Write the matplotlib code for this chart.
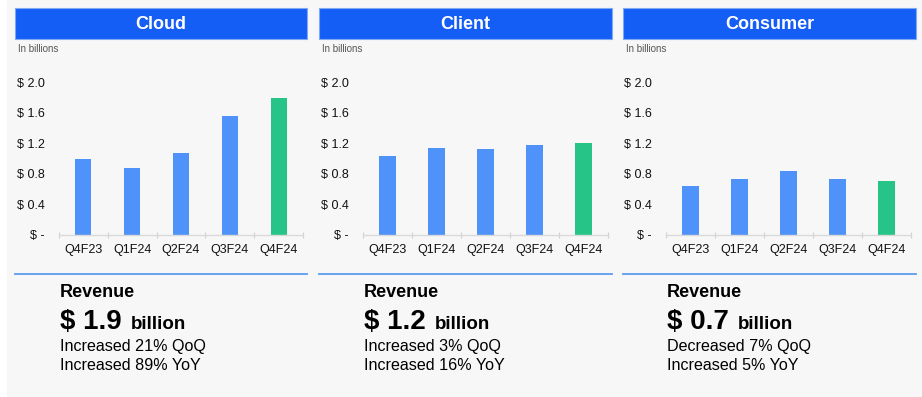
import numpy as np
import matplotlib
matplotlib.use('Agg')
import matplotlib.pyplot as plt
from matplotlib.patches import Rectangle

plt.rcParams['font.family'] = ['Liberation Sans', 'DejaVu Sans']

# data (billions)
quarters = ['Q4F23', 'Q1F24', 'Q2F24', 'Q3F24', 'Q4F24']
cloud = [0.99, 0.87, 1.07, 1.55, 1.79]
client = [1.03, 1.14, 1.12, 1.17, 1.20]
consumer = [0.645, 0.73, 0.84, 0.73, 0.71]

segments = ['Cloud', 'Client', 'Consumer']
revenue = ['$ 1.9', '$ 1.2', '$ 0.7']
qoq = ['Increased 21% QoQ', 'Increased 3% QoQ', 'Decreased 7% QoQ']
yoy = ['Increased 89% YoY', 'Increased 16% YoY', 'Increased 5% YoY']
yticks = [0, 0.4, 0.8, 1.2, 1.6, 2.0]
ytick_labels = ['$ -', '$ 0.4', '$ 0.8', '$ 1.2', '$ 1.6', '$ 2.0']

W, H = 922, 397
BLUE = '#4f93fa'
GREEN = '#26c486'
HEAD = '#155ef5'
BG = '#f7f7f7'

fig = plt.figure(figsize=(W / 100, H / 100), dpi=100)
fig.patch.set_facecolor(BG)


def fx(px):
    return px / W


def fy(py):
    return 1 - py / H


# white strip on the left edge
fig.patches.append(Rectangle((0, 0), fx(7), 1, transform=fig.transFigure,
                             facecolor='white', edgecolor='none'))

# panel geometry in pixels: title box left/right, axes left/right
boxes = [(15, 307), (319, 612), (623, 916)]
axes_x = [(59, 303), (363, 608), (666, 911)]
ax_top, ax_bot = 82, 235

for i, values in enumerate([cloud, client, consumer]):
    bl, br = boxes[i]
    # title header
    fig.patches.append(Rectangle((fx(bl), fy(39)), fx(br - bl), 31 / H,
                                 transform=fig.transFigure, facecolor=HEAD,
                                 edgecolor='#7fa8f7', linewidth=0.8))
    fig.text(fx((bl + br) / 2), fy(24.5), segments[i], color='white',
             fontsize=13, fontweight='bold', ha='center', va='center')
    fig.text(fx(bl + 3), fy(49), 'In billions', color='#555555',
             fontsize=7, ha='left', va='center')

    # bar chart
    al, ar = axes_x[i]
    ax = fig.add_axes([fx(al), fy(ax_bot), fx(ar - al), (ax_bot - ax_top) / H])
    ax.set_facecolor('none')
    colors = [BLUE] * (len(quarters) - 1) + [GREEN]
    x = np.arange(len(quarters))
    ax.bar(x, values, width=0.33, color=colors, edgecolor='none')
    ax.set_xlim(-0.5, len(quarters) - 0.5)
    ax.set_ylim(0, 2.0)
    ax.set_yticks(yticks)
    ax.set_yticklabels(ytick_labels, fontsize=9, color='#111111')
    ax.set_xticks(x)
    ax.set_xticklabels(quarters, fontsize=9, color='#111111')
    ax.set_xticks(np.arange(-0.5, len(quarters)), minor=True)
    ax.tick_params(axis='y', length=0, pad=10.5)
    ax.tick_params(axis='x', which='major', length=0, pad=6.5)
    ax.tick_params(axis='x', which='minor', length=4, direction='inout',
                   color='#d0d0d0', width=0.8)
    for s in ['top', 'right', 'left']:
        ax.spines[s].set_visible(False)
    ax.spines['bottom'].set_color('#d9d9d9')
    ax.spines['bottom'].set_linewidth(1.0)

    # separator line
    fig.add_artist(plt.Line2D([fx(bl), fx(br)], [fy(274), fy(274)],
                              transform=fig.transFigure, color='#5b9bf0',
                              linewidth=1.3))

    # summary text
    tx = al + 1
    fig.text(fx(tx), fy(297), 'Revenue', fontsize=13, fontweight='bold',
             ha='left', va='baseline', color='black')
    fig.text(fx(tx), fy(329), revenue[i], fontsize=20, fontweight='bold',
             ha='left', va='baseline', color='black')
    fig.text(fx(tx + 71), fy(329), 'billion', fontsize=13.5,
             fontweight='bold', ha='left', va='baseline', color='black')
    fig.text(fx(tx), fy(351), qoq[i], fontsize=11.6, ha='left',
             va='baseline', color='black')
    fig.text(fx(tx), fy(370), yoy[i], fontsize=11.6, ha='left',
             va='baseline', color='black')

fig.savefig('out.png', dpi=100, facecolor=fig.get_facecolor())
